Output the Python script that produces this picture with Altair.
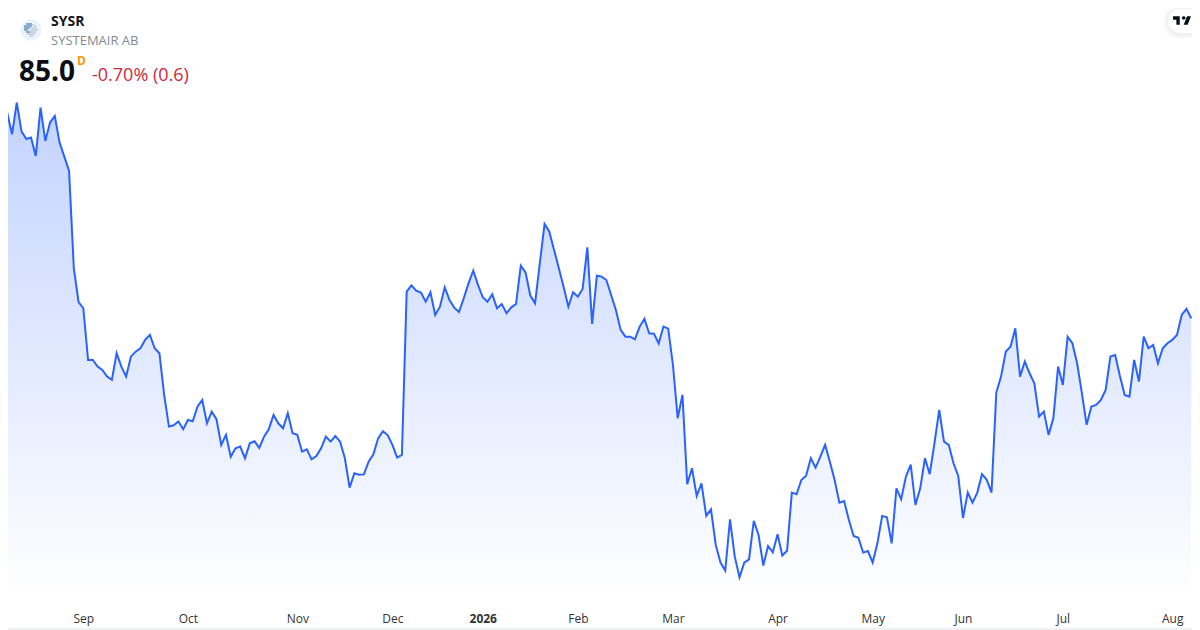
import json
import altair as alt
import pandas as pd

# Daily close (price units); the last close is 85.0
prices_aug_nov = [
    97.29, 98.12, 96.74, 98.76, 96.93, 96.44, 96.53, 95.36, 98.44, 96.32, 97.49, 97.91, 96.21, 95.32, 94.40, 88.19,
    86.04, 85.64, 82.34, 82.34, 81.92, 81.70, 81.28, 81.07, 82.77, 81.92, 81.28, 82.55, 82.87, 83.09, 83.62, 83.94,
    83.09, 82.77, 80.11, 78.09, 78.17, 78.41, 77.92, 78.51, 78.43, 79.36, 79.79, 78.30, 79.04, 78.56, 76.92, 77.56,
    76.17, 76.70, 76.81, 76.07, 77.02, 77.15, 76.73, 77.45, 77.92, 78.83, 78.30, 77.98, 78.94, 77.66, 77.56,
]
prices_nov_feb = [
    76.49, 76.64, 76.00, 76.21, 76.70, 77.45, 77.13, 77.49, 77.13, 76.07, 74.19, 75.11, 75.02, 75.04, 75.85, 76.32,
    77.34, 77.79, 77.55, 76.92, 76.11, 76.28, 86.70, 87.10, 86.76, 86.64, 86.06, 86.66, 85.21, 85.74, 86.98, 86.17,
    85.68, 85.40, 86.28, 87.23, 88.04, 87.13, 86.34, 86.06, 86.53, 85.64, 85.91, 85.32, 85.70, 85.91, 88.36, 87.93,
    86.45, 85.96, 88.51, 91.02, 90.53, 89.36, 88.19, 87.02, 85.74, 86.66, 86.38, 86.87, 89.53, 84.64, 87.72,
    87.66, 87.44, 86.49, 85.53,
]
prices_feb_may = [
    84.26, 83.83, 83.83, 83.66, 84.47, 84.96, 84.04, 84.02, 83.40, 84.47, 84.34, 82.02, 78.62, 80.11, 74.41, 75.43,
    73.66, 74.47, 72.39, 72.81, 70.54, 69.41, 68.90, 72.17, 69.79, 68.47, 69.41, 69.62, 72.07, 71.17, 69.22, 70.47,
    70.07, 71.22, 69.86, 70.17, 73.88, 73.77, 74.68, 74.96, 76.07, 75.47, 76.17, 76.92, 75.85, 74.68, 73.24, 73.34,
    72.13, 71.11, 71.00, 70.05, 70.15, 69.41, 70.64, 72.39,
]
prices_may_aug = [
    72.30, 70.64, 74.15, 73.45, 74.90, 75.66, 73.09, 74.15, 76.07, 75.05, 77.03, 79.15, 77.13, 76.92, 75.75, 74.94,
    72.26, 73.88, 73.24, 73.88, 75.05, 74.69, 73.88, 80.26, 81.28, 82.88, 83.19, 84.36, 81.28, 82.24, 81.49, 80.85,
    78.73, 79.05, 77.56, 78.62, 81.92, 80.75, 83.83, 83.41, 82.13, 80.22, 78.20, 79.37, 79.47, 79.79, 80.43, 82.56,
    82.66, 81.32, 80.11, 80.00, 82.34, 80.96, 83.83, 83.09, 83.30, 82.13, 83.09, 83.41, 83.62, 83.94, 85.21, 85.60,
    85.00,
]
prices = prices_aug_nov + prices_nov_feb + prices_feb_may + prices_may_aug

tick_sessions = [17, 39, 62, 82, 101, 121, 141, 163, 183, 202, 223, 246]
tick_labels = ["Sep", "Oct", "Nov", "Dec", "2026", "Feb", "Mar", "Apr", "May", "Jun", "Jul", "Aug"]

ticker = "SYSR"
company = "SYSTEMAIR AB"
last_price = "85.0"
interval = "D"
change = "-0.70% (0.6)"

logo_dark = [[-4, -6], [-2, -6], [0, -6], [-6, -4], [-4, -4], [-2, -4], [0, -4], [-6, -2], [-4, -2], [-2, -2],
             [-6, 0], [-4, 0], [-4, 2], [-2, 2]]
logo_light = [[2, -5], [4, -4], [1, -2], [3, -2], [5, -2], [0, 0], [2, 0], [4, 0], [6, 0], [0, 2], [2, 2], [4, 2],
              [-3, 4], [-1, 4], [1, 4], [3, 4], [-1, 6], [1, 6]]

TV_PATH = ("M-.5 -.234H-.125V.234H-.3125V-.047H-.5Z"
           "M.3125 .234H.094L.281 -.234H.5Z"
           "M.094 -.047A.094 .094 0 1 0 .094 -.234A.094 .094 0 1 0 .094 -.047Z")

W, H, BOTTOM = 1184, 593, 29
FLOOR_PRICE = 66.96
FONT = "Open Sans"
LINE = "#2962ff"

df = pd.DataFrame({"session": list(range(len(prices))), "close": prices})
x_scale = alt.Scale(domain=[1.157, 250.16], nice=False, zero=False)
y_scale = alt.Scale(domain=[FLOOR_PRICE, 104.80], nice=False, zero=False)

label_map = {str(k): v for k, v in zip(tick_sessions, tick_labels)}
x_axis = alt.Axis(
    values=tick_sessions,
    labelExpr=f"{json.dumps(label_map)}[datum.value]",
    labelFontWeight=alt.expr(f"datum.value=={tick_sessions[tick_labels.index('2026')]}?'bold':'normal'"),
    title=None, ticks=False, domain=False, grid=False, labelPadding=12,
    labelFont=FONT, labelFontSize=12, labelColor="#333333",
    labelOverlap=False, labelFlush=False, labelBound=False,
)
x_enc = alt.X("session:Q", scale=x_scale, axis=x_axis)
y_enc = alt.Y("close:Q", scale=y_scale, axis=None)

area = alt.Chart(df).mark_area(
    color=alt.Gradient(
        gradient="linear",
        stops=[
            alt.GradientStop(color="#c3d3ff", offset=0),
            alt.GradientStop(color="#ffffff", offset=1),
        ],
        x1=1, x2=1, y1=0, y2=1,
    ),
).encode(x=x_enc, y=y_enc, y2=alt.Y2(datum=FLOOR_PRICE))
line = alt.Chart(df).mark_line(color=LINE, strokeWidth=2).encode(x=x_enc, y=y_enc)

one = alt.Data(values=[{"a": 1}])


def label(txt, x, y, size, color, weight="normal"):
    return alt.Chart(one).mark_text(
        font=FONT, fontSize=size, color=color, fontWeight=weight, align="left", baseline="alphabetic"
    ).encode(x=alt.value(x), y=alt.value(y), text=alt.value(txt))


def box(x, x2, y, y2, color, opacity=1, **kw):
    return alt.Chart(one).mark_rect(color=color, opacity=opacity, **kw).encode(
        x=alt.value(x), x2=alt.value(x2), y=alt.value(y), y2=alt.value(y2)
    )


border = box(0, 1184, 620.5, 621.5, "#e0e3eb")

shadow = [
    box(1160 - d, 1184, 1 - d + 1, 25 + d + 1, "#000000", 0.012,
        cornerRadiusTopLeft=12 + d, cornerRadiusBottomLeft=12 + d)
    for d in (5, 4, 3, 2, 1)
]
pill = box(1160, 1184, 1, 25, "#ffffff", cornerRadiusTopLeft=12, cornerRadiusBottomLeft=12)
tv = alt.Chart(one).mark_point(shape=TV_PATH, filled=True, color="#0b0e14", opacity=1, size=1296).encode(
    x=alt.value(1174), y=alt.value(12.5)
)

logo_bg = alt.Chart(one).mark_circle(color="#eef2fa", opacity=1, size=452).encode(x=alt.value(23), y=alt.value(22))


def dots(cells, color, r):
    path = "".join(f"M{dx - r} {dy - r}h{2 * r}v{2 * r}h{-2 * r}Z" for dx, dy in cells)
    return alt.Chart(one).mark_point(shape=path, filled=True, color=color, opacity=1, size=4).encode(
        x=alt.value(23), y=alt.value(22)
    )


layers = [
    area, line, border, *shadow, pill, tv, logo_bg,
    dots(logo_light, "#a9bdd4", 0.7), dots(logo_dark, "#2a6ca3", 0.7),
    label(ticker, 43, 18, 14, "#131722", "bold"),
    label(company, 43, 37, 13, "#868993"),
    label(last_price, 11, 72.5, 28, "#0b0e14", "bold"),
    label(interval, 69, 57, 12, "#ff9800", "bold"),
    label(change, 84, 73, 18, "#d0283c"),
]

chart = alt.layer(*layers).properties(
    width=W, height=H,
    autosize=alt.AutoSizeParams(type="none"),
    padding={"left": 0, "top": 0, "right": 0, "bottom": BOTTOM},
    background="#ffffff",
).configure_view(stroke=None)

chart.save("out.html", embed_options={"renderer": "svg", "actions": False})
